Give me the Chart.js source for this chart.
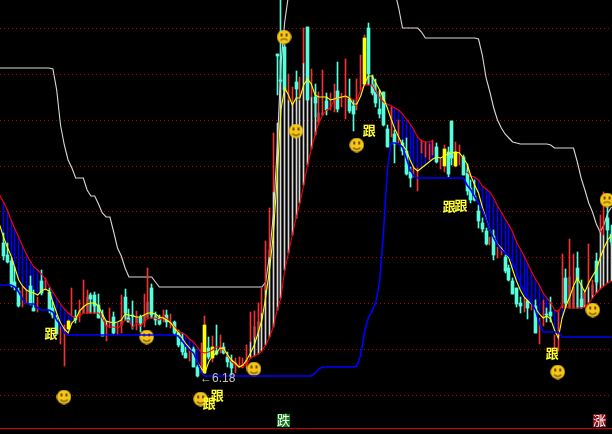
<!DOCTYPE html>
<html><head><meta charset="utf-8">
<style>html,body{margin:0;padding:0;background:#000}canvas{display:block}</style>
<script src="https://cdn.jsdelivr.net/npm/chart.js@4"></script>
</head><body><canvas id="c" width="612" height="434"></canvas>
<script>
const highs=[7.62,7.52,7.37,7.28,7.07,7.08,7.05,7.19,7.05,6.98,7.25,7.17,7.07,6.93,6.80,6.72,6.70,6.75,7.07,6.85,6.95,7.15,7.05,7.02,7.03,7.01,6.85,6.70,6.87,6.83,6.72,7.00,7.06,6.86,6.94,6.84,6.80,7.01,7.27,7.11,6.83,6.80,6.85,6.85,6.81,6.74,6.65,6.62,6.48,6.47,6.48,6.30,6.52,6.79,6.58,6.59,6.70,6.60,6.52,6.43,6.40,6.37,6.38,6.37,6.50,6.83,6.84,6.92,7.07,7.54,7.87,8.62,9.41,9.95,9.50,9.21,9.08,9.24,9.18,9.67,9.68,9.26,9.11,9.03,9.25,9.02,9.02,9.11,9.33,9.02,9.36,9.16,8.95,9.16,9.40,9.60,9.72,9.20,9.16,9.00,9.03,8.70,8.88,8.65,8.75,8.55,8.57,8.28,8.28,8.27,8.55,8.53,8.51,8.55,8.52,8.37,8.50,8.48,8.74,8.53,8.50,8.40,8.25,8.15,8.15,7.90,7.77,7.67,7.58,7.65,7.48,7.47,7.40,7.30,7.17,7.07,6.98,6.97,6.95,6.92,6.95,6.77,6.95,6.87,6.98,6.60,6.85,7.41,7.26,7.56,7.41,7.43,7.15,7.05,7.51,7.15,7.42,7.80,8.03,7.88,7.70];
const lows=[7.35,7.32,7.08,7.05,6.88,6.88,6.92,6.90,6.84,6.83,7.00,7.05,6.82,6.77,6.61,6.51,6.29,6.65,6.80,6.72,6.73,6.82,6.82,6.82,6.82,6.77,6.59,6.54,6.67,6.61,6.60,6.62,6.75,6.73,6.66,6.65,6.63,6.68,6.77,6.77,6.70,6.70,6.73,6.68,6.67,6.60,6.48,6.40,6.37,6.34,6.28,6.18,6.22,6.22,6.36,6.33,6.40,6.42,6.41,6.28,6.18,6.22,6.28,6.27,6.27,6.53,6.58,6.62,6.82,7.05,7.38,8.03,9.00,9.12,9.03,8.95,8.92,8.95,8.95,9.32,8.95,8.98,8.78,8.70,8.80,8.80,8.85,8.83,8.83,8.88,8.76,8.82,8.64,8.85,9.05,9.11,9.11,9.00,8.88,8.77,8.69,8.48,8.58,8.32,8.52,8.40,8.20,8.08,8.18,8.04,8.42,8.38,8.35,8.40,8.32,8.26,8.23,8.18,8.30,8.28,8.30,8.20,8.00,7.92,7.94,7.67,7.63,7.50,7.50,7.35,7.37,7.40,7.22,7.14,7.01,6.88,6.82,6.83,6.76,6.85,6.62,6.51,6.69,6.73,6.73,6.45,6.44,6.87,6.87,6.87,6.87,6.87,6.87,6.90,7.08,7.00,7.10,7.63,7.60,7.57,7.50];
const n=null;
const bodyTop=[7.52,7.40,7.34,7.13,7.04,n,n,7.09,6.87,n,7.14,n,7.03,6.87,6.77,n,n,6.74,n,6.78,n,n,n,7.00,7.00,6.90,6.77,n,n,6.78,n,n,6.98,6.77,6.80,n,6.78,n,n,7.07,6.78,6.77,n,6.80,n,6.73,6.62,6.53,6.42,n,6.46,6.28,n,6.70,6.47,6.48,6.44,n,6.48,6.38,6.34,n,n,n,n,n,n,n,n,n,n,n,9.41,9.15,9.48,n,n,9.13,n,n,9.68,n,8.98,n,n,8.94,n,n,9.04,n,n,8.96,8.89,n,n,9.57,9.67,9.10,9.03,8.86,9.03,8.66,n,8.61,n,8.52,8.44,8.23,n,n,n,n,n,n,8.48,n,8.46,8.43,8.74,8.43,n,8.38,8.22,8.07,7.99,7.84,7.72,7.64,n,7.59,n,n,7.38,7.27,7.14,7.07,6.92,n,6.94,n,6.89,n,n,6.81,6.83,n,n,n,7.17,n,n,7.27,6.96,n,n,n,7.34,n,n,7.77,7.61];
const bodyBot=[7.39,7.33,7.10,7.08,6.89,n,n,6.91,6.84,n,7.02,n,6.85,6.80,6.61,n,n,6.66,n,6.75,n,n,n,6.96,6.89,6.77,6.59,n,n,6.62,n,n,6.82,6.73,6.79,n,6.72,n,n,6.80,6.75,6.71,n,6.73,n,6.62,6.50,6.43,6.37,n,6.28,6.19,n,6.22,6.38,6.37,6.41,n,6.42,6.33,6.27,n,n,n,n,n,n,n,n,n,n,n,9.39,9.14,9.05,n,n,9.06,n,n,8.95,n,8.92,n,n,8.85,n,n,8.86,n,n,8.84,8.81,n,n,9.11,9.21,9.02,8.92,8.81,8.70,8.48,n,8.51,n,8.44,8.21,8.17,n,n,n,n,n,n,8.33,n,8.29,8.21,8.37,8.29,n,8.20,8.04,7.95,7.95,7.74,7.66,7.51,n,7.40,n,n,7.24,7.15,7.01,6.91,6.89,n,6.87,n,6.62,n,n,6.80,6.79,n,n,n,6.92,n,n,7.15,6.88,n,n,n,7.13,n,n,7.65,7.53];
const yellowCandles=[17,53,55,95,116,119];
const redLine=[7.93,7.85,7.75,7.66,7.58,7.49,7.41,7.34,7.28,7.25,7.21,7.16,7.09,7.03,6.97,6.91,6.86,6.82,6.79,6.77,6.79,6.82,6.82,6.82,6.82,6.82,6.77,6.69,6.68,6.68,6.67,6.70,6.75,6.75,6.67,6.72,6.69,6.73,6.77,6.77,6.77,6.75,6.79,6.76,6.72,6.68,6.64,6.62,6.60,6.56,6.53,6.48,6.43,6.42,6.43,6.45,6.48,6.48,6.45,6.39,6.33,6.30,6.28,6.28,6.31,6.37,6.39,6.41,6.44,6.50,6.58,6.68,6.85,6.97,7.25,7.42,7.60,7.77,7.92,8.10,8.30,8.46,8.60,8.73,8.80,8.85,8.87,8.95,8.97,8.98,8.98,8.98,8.95,8.95,9.05,9.10,9.10,9.10,9.03,8.97,8.93,8.91,8.89,8.87,8.85,8.81,8.76,8.71,8.65,8.58,8.54,8.53,8.53,8.54,n,n,n,n,n,n,n,n,8.23,8.19,8.18,8.15,8.09,8.06,8.03,7.97,7.89,7.83,7.76,7.70,7.63,7.53,7.46,7.39,7.31,7.23,7.16,7.10,7.02,6.97,6.92,6.85,6.83,6.90,6.88,6.87,6.87,6.87,6.87,6.88,6.92,6.97,7.02,7.06,7.09,7.12,7.14];
const yellowLine=[7.58,7.48,7.39,7.27,7.15,7.09,7.05,7.03,7.02,7.00,7.04,7.06,7.04,6.93,6.82,6.72,6.66,6.62,6.72,6.76,6.84,6.88,6.91,6.92,6.92,6.89,6.81,6.74,6.73,6.72,6.73,6.75,6.81,6.80,6.79,6.78,6.78,6.80,6.82,6.82,6.81,6.78,6.77,6.75,6.72,6.67,6.62,6.57,6.51,6.47,6.40,6.33,6.27,6.22,6.33,6.39,6.42,6.47,6.46,6.40,6.35,6.32,6.28,6.30,6.35,6.42,6.50,6.62,6.75,6.98,7.25,7.60,8.17,8.85,9.07,9.00,8.90,8.97,8.97,9.10,9.16,9.11,9.00,8.98,8.98,8.98,8.95,8.96,8.97,8.98,8.99,8.97,8.91,8.91,8.99,9.11,9.19,9.19,9.12,9.05,8.97,8.87,8.76,8.66,8.58,8.50,8.45,8.35,8.27,8.24,8.27,8.30,8.33,8.36,8.38,8.37,8.39,8.41,8.42,8.43,8.42,8.37,8.31,8.19,8.10,8.02,7.88,7.76,7.65,7.58,7.51,7.47,7.42,7.37,7.25,7.14,7.05,6.98,6.94,6.91,6.87,6.81,6.77,6.79,6.76,6.65,6.57,6.77,6.89,6.98,7.09,7.17,7.10,7.03,7.12,7.19,7.25,7.37,7.47,7.55,7.60];
const whiteLine=[9.27,9.27,9.27,9.27,9.27,9.27,9.27,9.27,9.27,9.27,9.27,9.27,9.27,9.26,9.05,8.70,8.50,8.35,8.27,8.17,8.17,8.17,8.05,7.99,7.99,7.91,7.82,7.78,7.78,7.63,7.47,7.39,7.27,7.18,7.18,7.18,7.18,7.18,7.18,7.18,7.13,7.08,7.08,7.08,7.08,7.08,7.08,7.08,7.08,7.08,7.08,7.08,7.08,7.08,7.08,7.08,7.08,7.08,7.08,7.08,7.08,7.08,7.08,7.08,7.08,7.08,7.08,7.08,7.08,7.13,7.40,7.80,8.45,9.30,9.73,10.0,n,n,n,n,n,n,n,n,n,n,n,n,n,n,n,n,n,n,n,n,n,n,n,n,n,n,n,10.03,9.87,9.67,9.67,9.67,9.67,9.67,9.63,9.57,9.57,9.57,9.57,9.57,9.57,9.57,9.57,9.57,9.57,9.57,9.57,9.57,9.57,9.56,9.40,9.17,9.03,8.87,8.75,8.67,8.61,8.57,8.53,8.52,8.51,8.51,8.51,8.51,8.51,8.51,8.51,8.51,8.50,8.47,8.47,8.47,8.47,8.47,8.47,8.33,8.17,8.05,7.92,7.83,7.71,7.63,7.70,7.82,7.88];
const blueLine=[7.10,7.10,7.10,7.08,7.03,6.96,6.91,6.91,6.91,6.87,6.85,6.85,6.85,6.83,6.75,6.70,6.62,6.60,6.60,6.60,6.60,6.60,6.60,6.60,6.60,6.60,6.60,6.60,6.60,6.60,6.60,6.60,6.60,6.60,6.60,6.60,6.60,6.60,6.60,6.60,6.60,6.60,6.60,6.60,6.60,6.60,6.59,6.54,6.49,6.45,6.42,6.33,6.23,6.19,6.19,6.19,6.19,6.19,6.19,6.19,6.19,6.19,6.19,6.19,6.19,6.19,6.19,6.19,6.19,6.19,6.19,6.19,6.19,6.19,6.19,6.19,6.19,6.19,6.19,6.19,6.19,6.19,6.22,6.26,6.28,6.28,6.28,6.28,6.28,6.28,6.28,6.28,6.28,6.29,6.40,6.63,6.77,6.84,6.93,7.14,7.63,8.25,8.52,8.52,8.51,8.48,8.37,8.25,8.19,8.17,8.17,8.17,8.17,8.17,8.17,8.17,8.17,8.17,8.17,8.17,8.17,8.17,8.10,8.05,7.98,7.92,7.85,7.75,7.65,7.57,7.50,7.45,7.42,7.39,7.33,7.23,7.12,7.03,6.97,6.92,6.85,6.72,6.63,6.63,6.63,6.63,6.63,6.58,6.58,6.58,6.58,6.58,6.58,6.58,6.58,6.58,6.58,6.58,6.58,6.58,6.58];
const leadRed=8.00, leadYellow=7.70, leadWhite=9.27, leadBlue=7.10;
const barTopIdx=[22,38,65,66,67,68,69,70,71,72,73,75,76,77,78,79,81,83,84,94,147,149,150,151,153,154,155,156,157,158,159];
const barTopVal=[6.98,6.93,6.53,6.68,6.73,6.82,7.10,7.45,8.03,8.72,9.35,8.95,8.92,8.95,8.95,9.32,8.98,8.82,8.82,9.08,6.99,7.18,7.08,7.15,7.02,7.08,7.10,7.13,7.63,7.60,7.57];
const extraBlueBars=[28,30,34,86];
const smileIdx=[15.92,37.68,51.89,65.92,76.97,92.95,145.84,155.05];
const smileVal=[5.98,6.58,5.96,6.26,8.64,8.50,6.23,6.85];
const frownIdx=[73.82,158.82];
const frownVal=[9.58,7.95];
const followLabel='跟';
const followIdx=[12.5,56.26,54.16,96.26,117.32,120.39,144.42];
const followVal=[6.62,6.00,5.92,8.65,7.89,7.90,6.42];
const lowLabel='←6.18';
const lowIdx=51.7, lowVal=6.16;
const boxLabels=['跌','涨'];
const boxIdx=[73.7,156.84];
const boxVal=[5.745,5.745];
const boxColors=['#0a7d12','#8a0a14'];
const gridValues=[9.665,9.207,8.747,8.29,7.833,7.374,6.915,6.457,5.997];
const bottomRule=5.665;
const RED='#f53232',CYAN='#55ffdd',YEL='#ffff00',BLUE='#0000ff',WHITE='#d8d8d8';

const count=highs.length;
const xs=highs.map((_,i)=>i);
const pts=(a,lead)=>[{x:-1,y:lead}].concat(a.map((v,i)=>({x:i,y:v})));
const wicks=xs.map(i=>({x:i,y:[lows[i],highs[i]]}));
const wickColors=xs.map(i=>(bodyTop[i]===null||yellowCandles.includes(i))?RED:CYAN);
const bodyIdx=xs.filter(i=>bodyTop[i]!==null);
const bodies=bodyIdx.map(i=>({x:i,y:[bodyBot[i],bodyTop[i]]}));
const bodyColors=bodyIdx.map(i=>yellowCandles.includes(i)?YEL:CYAN);
const spreadIdx=xs.filter(i=>redLine[i]!==null);
const spreads=spreadIdx.map(i=>{
  const up=yellowLine[i]>=redLine[i];
  const k=barTopIdx.indexOf(i);
  const top=(up&&k>=0)?barTopVal[k]:yellowLine[i];
  return {x:i,y:[redLine[i],top]};
});
const spreadColors=spreadIdx.map(i=>(yellowLine[i]<redLine[i]||extraBlueBars.includes(i))?BLUE:WHITE);

function face(happy){
  const c=document.createElement('canvas');c.width=15;c.height=15;
  const g=c.getContext('2d');
  g.fillStyle='#f5c518';g.beginPath();g.arc(7.5,7.5,7.2,0,Math.PI*2);g.fill();
  g.fillStyle='#6a4c00';g.fillRect(4,4,2,3);g.fillRect(9,4,2,3);
  g.strokeStyle='#6a4c00';g.lineWidth=1.3;g.beginPath();
  if(happy)g.arc(7.5,7.5,4.4,0.2*Math.PI,0.8*Math.PI);
  else g.arc(7.5,14,4.6,1.25*Math.PI,1.75*Math.PI);
  g.stroke();
  return c;
}
const line=(data,lead,color,w)=>({type:'line',data:pts(data,lead),borderColor:color,borderWidth:w,pointRadius:0,tension:0,spanGaps:false,fill:false});
const bar=(data,colors,t)=>({type:'bar',data,backgroundColor:colors,borderWidth:0,barThickness:t,grouped:false});

const crisp={id:'crisp',afterDatasetsUpdate(chart){
  chart.getSortedVisibleDatasetMetas().forEach(m=>{
    if(m.type!=='bar')return;
    m.data.forEach(el=>{el.x=Math.floor(el.x)+0.5;el.y=Math.round(el.y);el.base=Math.round(el.base);});
  });
}};
const notes={id:'notes',afterDatasetsDraw(chart){
  const {ctx,scales:{x,y}}=chart;
  ctx.save();
  ctx.textBaseline='middle';
  ctx.textAlign='center';
  ctx.font='bold 13px "Noto Sans CJK SC"';
  ctx.fillStyle='#ffff33';
  followIdx.forEach((v,i)=>ctx.fillText(followLabel,x.getPixelForValue(v),y.getPixelForValue(followVal[i])));
  ctx.font='13px "Noto Sans CJK SC"';
  boxIdx.forEach((v,i)=>{
    const px=x.getPixelForValue(v),py=y.getPixelForValue(boxVal[i]);
    ctx.fillStyle=boxColors[i];ctx.fillRect(Math.round(px-6.5),Math.round(py-6.5),13,13);
    ctx.fillStyle='#fff';ctx.fillText(boxLabels[i],px,py);
  });
  ctx.textAlign='left';
  ctx.font='12px "Liberation Sans"';
  ctx.fillStyle='#c4c4c4';
  ctx.fillText(lowLabel,x.getPixelForValue(lowIdx),y.getPixelForValue(lowVal));
  ctx.restore();
}};

new Chart(document.getElementById('c'),{
  type:'bar',
  data:{datasets:[
    line(blueLine,leadBlue,BLUE,1.6),
    {type:'scatter',data:smileIdx.map((v,i)=>({x:v,y:smileVal[i]})),pointStyle:face(true),showLine:false},
    {type:'scatter',data:frownIdx.map((v,i)=>({x:v,y:frownVal[i]})),pointStyle:face(false),showLine:false},
    line(yellowLine,leadYellow,YEL,1.1),
    line(redLine,leadRed,'#ff0000',1.1),
    bar(bodies,bodyColors,3),
    bar(wicks,wickColors,1),
    bar(spreads,spreadColors,1),
    line(whiteLine,leadWhite,WHITE,1.1),
    {type:'line',data:[{x:-1,y:bottomRule},{x:count,y:bottomRule}],borderColor:'#d00000',borderWidth:1,pointRadius:0}
  ]},
  options:{
    responsive:false,animation:false,
    layout:{padding:0,autoPadding:false},
    events:[],
    plugins:{legend:{display:false},tooltip:{enabled:false}},
    scales:{
      x:{type:'linear',offset:false,min:-0.921,max:160.13,display:false},
      y:{type:'linear',min:5.61,max:9.95,
        afterBuildTicks(s){s.ticks=gridValues.map(v=>({value:v}));},
        ticks:{display:false},
        border:{display:false,dash:[1,3]},
        grid:{color:'#c00000',lineWidth:1,drawTicks:false,tickLength:0}
      }
    }
  },
  plugins:[crisp,notes]
});
</script></body></html>
